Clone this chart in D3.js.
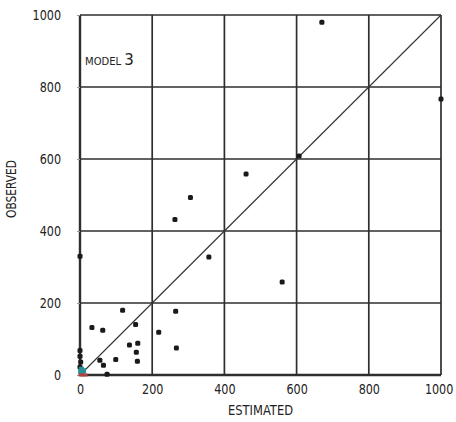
<!DOCTYPE html>
<html lang="en">
<head>
    <meta charset="UTF-8">
    <title>Model 3 - Observed vs Estimated</title>
    <script src="https://d3js.org/d3.v7.min.js"></script>
    <style>
        body { margin: 0; background: #fff; }
        text { font-family: "DejaVu Sans", sans-serif; fill: #222; }
    </style>
</head>
<body>
    <svg width="456" height="422"></svg>

    <script>
        // Values
        const estimated = [670, 1000, 607, 460, 357, 560, 306, 263, 118, 265, 33, 63, 154, 218,
                           137, 160, 156, 159, 99, 267, 55, 65, 0, 75, 0, 0, 2, 0];
        const observed  = [980, 767, 608, 558, 328, 258, 493, 432, 180, 177, 132, 124, 140, 119,
                           83, 88, 63, 38, 43, 75, 41, 27, 330, 2, 68, 52, 36, 22];
        // small cluster at the origin (coloured marks)
        const clusterEst = [4, 10, 6, 2];
        const clusterObs = [16, 12, 6, 10];
        const redEst = [3, 14];
        const redObs = [0, 0];

        const tickValues = [0, 200, 400, 600, 800, 1000];

        const margin = { top: 15, right: 15, bottom: 47, left: 80 },
              width = 456 - margin.left - margin.right,
              height = 422 - margin.top - margin.bottom;

        const svg = d3.select("svg")
                      .append("g")
                      .attr("transform", `translate(${margin.left},${margin.top})`);

        const xScale = d3.scaleLinear().domain([0, 1000]).range([0, width]);
        const yScale = d3.scaleLinear().domain([0, 1000]).range([height, 0]);

        // Grid lines
        svg.append("g")
           .selectAll("line")
           .data(tickValues)
           .enter()
           .append("line")
           .attr("x1", d => xScale(d)).attr("x2", d => xScale(d))
           .attr("y1", 0).attr("y2", height)
           .attr("stroke", "#2e2e2e")
           .attr("stroke-width", d => d === 0 ? 2.4 : 1.7);

        svg.append("g")
           .selectAll("line")
           .data(tickValues)
           .enter()
           .append("line")
           .attr("y1", d => yScale(d)).attr("y2", d => yScale(d))
           .attr("x1", 0).attr("x2", width)
           .attr("stroke", "#2e2e2e")
           .attr("stroke-width", d => d === 0 ? 2.4 : 1.7);

        // Axes (labels only), squeezed sideways like the hand-drawn original
        const fmt = d3.format("d");
        const squeeze = 0.8;
        const xAxis = svg.append("g")
           .attr("transform", `translate(0, ${height})`)
           .call(d3.axisBottom(xScale).tickValues(tickValues).tickFormat(fmt).tickSize(0).tickPadding(9));
        const yAxis = svg.append("g")
           .call(d3.axisLeft(yScale).tickValues(tickValues).tickFormat(fmt).tickSize(3).tickPadding(16));
        [xAxis, yAxis].forEach(a => {
            a.select(".domain").remove();
            a.selectAll("text")
             .style("font-size", "14px")
             .attr("fill", "#222")
             .attr("x", function() { return (+d3.select(this).attr("x") || 0) / squeeze; })
             .attr("transform", `scale(${squeeze},1)`);
            a.selectAll("line").attr("stroke", "#999");
        });
        // keep the last x label inside the page
        xAxis.selectAll("text").filter(d => d === 1000).attr("dx", "-3");

        // 1:1 line
        svg.append("line")
           .attr("x1", xScale(0)).attr("y1", yScale(0))
           .attr("x2", xScale(1000)).attr("y2", yScale(1000))
           .attr("stroke", "#333")
           .attr("stroke-width", 1.1);

        // Points
        const pts = estimated.map((e, i) => ({ x: e, y: observed[i] }));
        svg.selectAll("rect.pt")
           .data(pts)
           .enter()
           .append("rect")
           .attr("class", "pt")
           .attr("x", d => xScale(d.x) - 2.5)
           .attr("y", d => yScale(d.y) - 2.5)
           .attr("width", 5)
           .attr("height", 5)
           .attr("rx", 1.5)
           .attr("fill", "#1a1a1a");

        svg.selectAll("rect.teal")
           .data(clusterEst.map((e, i) => ({ x: e, y: clusterObs[i] })))
           .enter()
           .append("rect")
           .attr("class", "teal")
           .attr("x", d => xScale(d.x) - 2.5)
           .attr("y", d => yScale(d.y) - 2.5)
           .attr("width", 5)
           .attr("height", 5)
           .attr("fill", "#2b8f98");

        svg.selectAll("rect.red")
           .data(redEst.map((e, i) => ({ x: e, y: redObs[i] })))
           .enter()
           .append("rect")
           .attr("class", "red")
           .attr("x", d => xScale(d.x) - 2.5)
           .attr("y", d => yScale(d.y) - 1.5)
           .attr("width", 5)
           .attr("height", 3)
           .attr("fill", "#b0403e");

        // Labels
        svg.append("text")
           .attr("x", width / 2)
           .attr("y", height + 40)
           .attr("text-anchor", "middle")
           .attr("textLength", 65)
           .attr("lengthAdjust", "spacingAndGlyphs")
           .style("font-size", "14px")
           .text("ESTIMATED");

        svg.append("text")
           .attr("transform", `translate(-64, ${height / 2 - 6}) rotate(-90)`)
           .attr("text-anchor", "middle")
           .attr("textLength", 58)
           .attr("lengthAdjust", "spacingAndGlyphs")
           .style("font-size", "14px")
           .text("OBSERVED");

        const model = svg.append("text")
           .attr("x", 5)
           .attr("y", 50);
        model.append("tspan").style("font-size", "10px").text("MODEL ");
        model.append("tspan").style("font-size", "15px").text("3");
    </script>
</body>
</html>
